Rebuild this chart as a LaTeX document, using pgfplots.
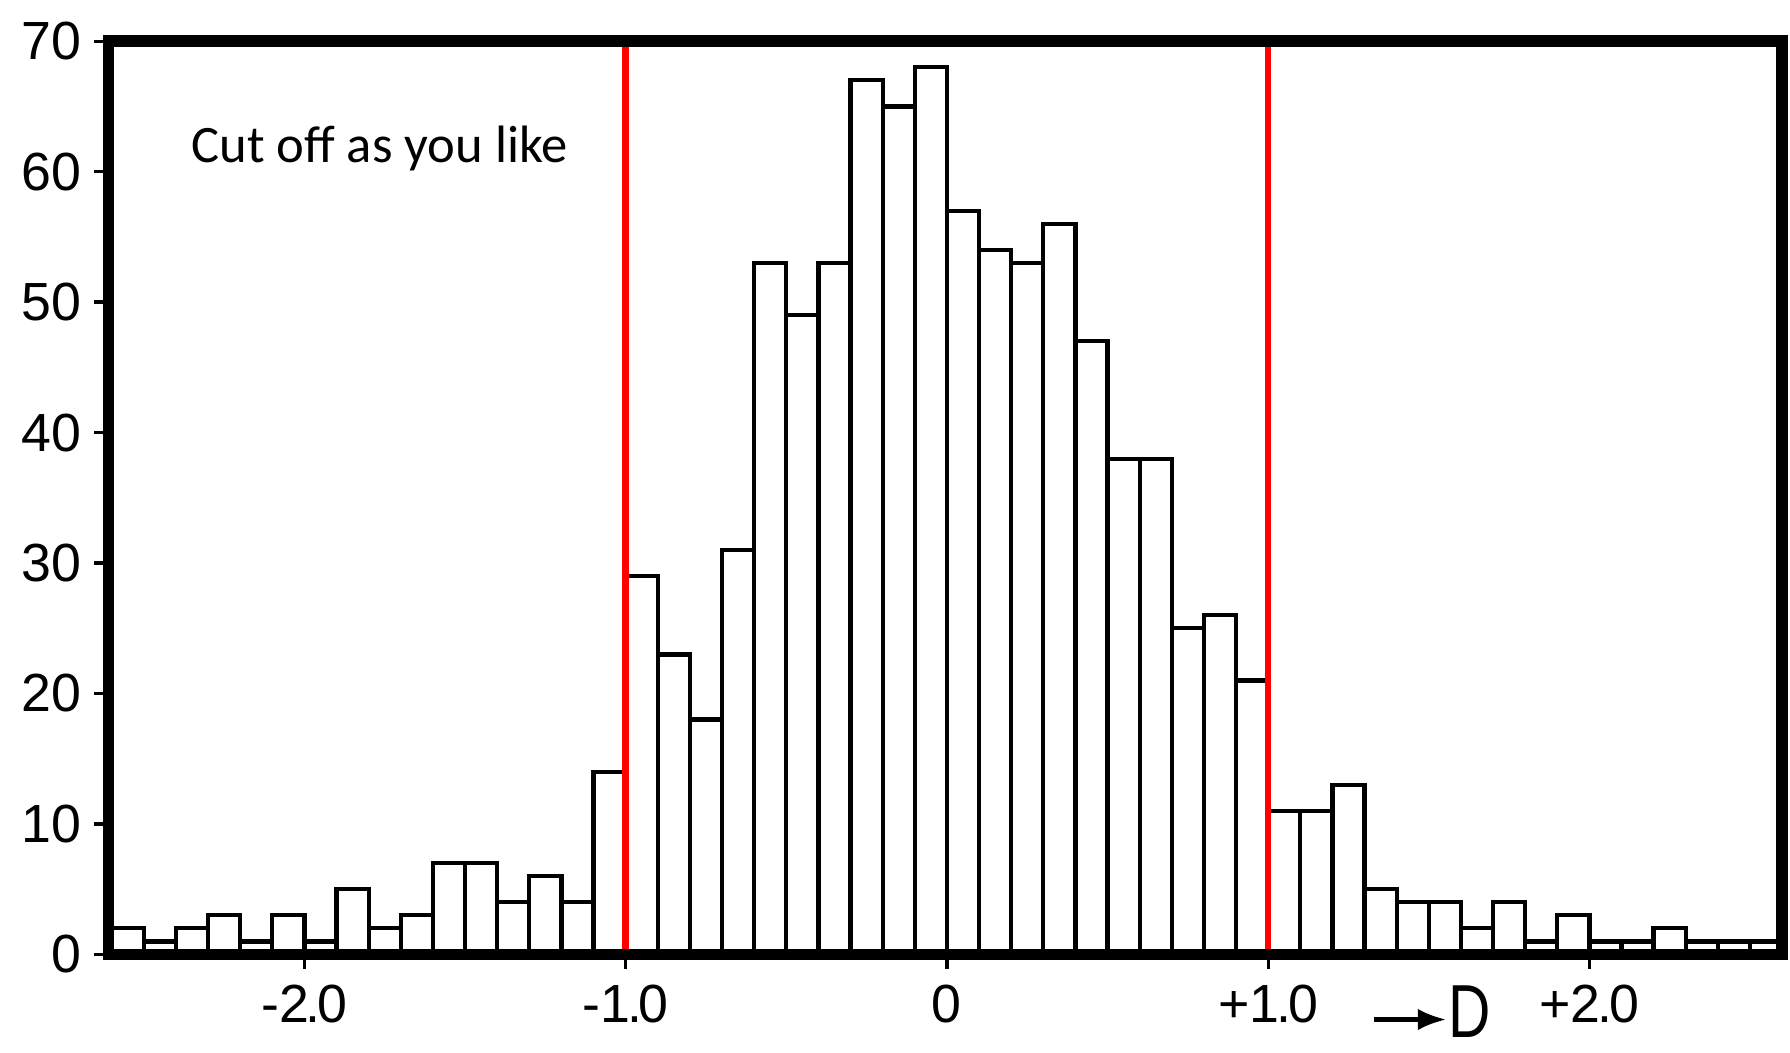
\documentclass[border=0pt]{standalone}
\usepackage{pgfplots}
\pgfplotsset{compat=1.18}
\usepackage{pgfplotstable}
\usetikzlibrary{arrows.meta}
\usepackage{fontspec}
\setmainfont{Liberation Sans}
\newfontfamily\calibri{Carlito}

\pgfplotstableread{
x y
-2.6 2
-2.5 1
-2.4 2
-2.3 3
-2.2 1
-2.1 3
-2.0 1
-1.9 5
-1.8 2
-1.7 3
-1.6 7
-1.5 7
-1.4 4
-1.3 6
-1.2 4
-1.1 14
-1.0 29
-0.9 23
-0.8 18
-0.7 31
-0.6 53
-0.5 49
-0.4 53
-0.3 67
-0.2 65
-0.1 68
0.0 57
0.1 54
0.2 53
0.3 56
0.4 47
0.5 38
0.6 38
0.7 25
0.8 26
0.9 21
1.0 11
1.1 11
1.2 13
1.3 5
1.4 4
1.5 4
1.6 2
1.7 4
1.8 1
1.9 3
2.0 1
2.1 1
2.2 2
2.3 1
2.4 1
2.5 1
2.6 1
}\histdata

\begin{document}
\begin{tikzpicture}
\begin{axis}[
  at={(0pt,0pt)}, anchor=south west,
  scale only axis,
  width=467.5pt, height=255.1pt,
  xmin=-2.61, xmax=2.6,
  ymin=0, ymax=70,
  axis on top=true,
  clip=false,
  axis line style={line width=3.2pt, black},
  xtick={-2,-1,0,1,2},
  xticklabels={-2\kern-0.06em.\kern-0.06em0,-1\kern-0.06em.\kern-0.06em0,0,+1\kern-0.06em.\kern-0.06em0,+2\kern-0.06em.\kern-0.06em0},
  ytick={0,10,20,30,40,50,60,70},
  xtick pos=bottom, ytick pos=left,
  tick align=outside,
  major tick length=4pt,
  tick style={line width=0.9pt, black},
  /pgf/number format/assume math mode=true,
  ticklabel style={font=\fontsize{15}{15}\selectfont},
  xticklabel style={yshift=-1pt},
]
\addplot[ybar interval, fill=white, draw=black, line width=1.2pt] table[x=x, y=y] {\histdata};
\addplot[red, line width=1.8pt] coordinates {(-1,0) (-1,70)};
\addplot[red, line width=1.8pt] coordinates {(1,0) (1,70)};
\node[anchor=west, font=\calibri\fontsize{14.7}{14.7}\selectfont, inner sep=0pt] at (axis cs:-2.354,61.8) {Cut off as you like};
\draw[-{Latex[length=8pt,width=6pt]}, line width=1.3pt] (axis cs:1.33,-4.99) -- (axis cs:1.555,-4.99);
\node[inner sep=0pt, font=\fontsize{21}{21}\selectfont] at (axis cs:1.628,-4.4) {\scalebox{0.78}[1]{D}};
\end{axis}
\pgfresetboundingbox
\path[use as bounding box] (-30.3pt,-27.46pt) rectangle (469.7pt,266.6pt);
\end{tikzpicture}
\end{document}
